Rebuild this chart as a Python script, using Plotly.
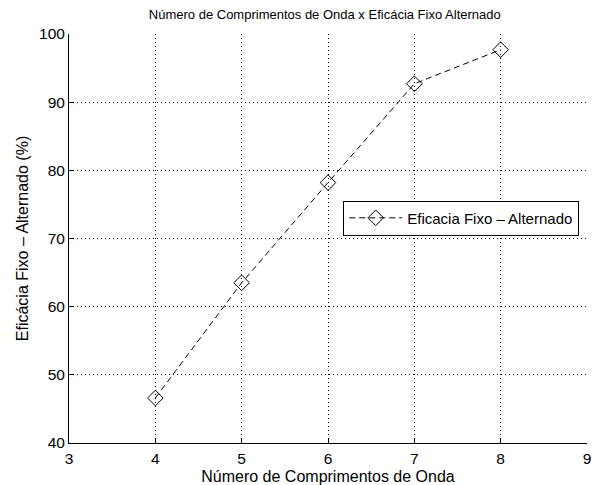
import plotly.graph_objects as go

num_ondas = [4, 5, 6, 7, 8]
eficacia = [46.6, 63.5, 78.2, 92.7, 97.7]
x_ticks = [3, 4, 5, 6, 7, 8, 9]
y_ticks = [40, 50, 60, 70, 80, 90, 100]

FONT = "Liberation Sans, Arial, Helvetica, sans-serif"

fig = go.Figure()
fig.add_trace(go.Scatter(
    x=num_ondas, y=eficacia, mode="lines+markers",
    name="Eficacia Fixo \u2013 Alternado",
    line=dict(color="black", width=1, dash="6px,4px"),
    marker=dict(symbol="diamond-open", size=12, color="black", line=dict(width=1, color="black")),
))

axis_common = dict(
    showline=True, linecolor="black", linewidth=1, mirror=False,
    ticks="inside", ticklen=5, tickcolor="black",
    showgrid=True, gridcolor="black", gridwidth=1, griddash="1px,3px",
    zeroline=False, automargin=False,
    tickfont=dict(size=15.5, color="black", family=FONT),
)

fig.update_layout(
    width=591, height=477,
    margin=dict(l=61, r=12, t=26, b=42),
    paper_bgcolor="white", plot_bgcolor="white",
    font=dict(family=FONT, color="black", size=15),
    title=dict(text="Número de Comprimentos de Onda x Eficácia Fixo Alternado",
               x=0.536, xanchor="center", y=0.987, yanchor="middle",
               font=dict(size=13)),
    xaxis=dict(range=[3, 9], tickvals=x_ticks, ticklabelstandoff=1, **axis_common,
               title=dict(text="Número de Comprimentos de Onda", standoff=8, font=dict(size=16))),
    yaxis=dict(range=[40, 100], tickvals=y_ticks, **axis_common,
               title=dict(text="Eficácia Fixo \u2013 Alternado (%)", standoff=6, font=dict(size=16))),
    showlegend=True,
    legend=dict(x=0.985, xanchor="right", y=0.55, yanchor="middle",
                bordercolor="black", borderwidth=1, bgcolor="white",
                font=dict(size=15), itemwidth=53),
)

fig.write_html("out.html")
